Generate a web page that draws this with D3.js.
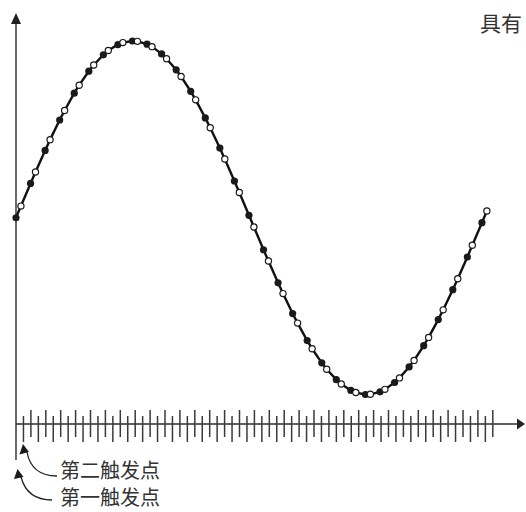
<!DOCTYPE html>
<html>
<head>
<meta charset="utf-8">
<script src="https://cdn.jsdelivr.net/npm/d3@7"></script>
<style>
  body { margin: 0; background: #fff; }
  svg text { font-family: "Noto Sans CJK SC", "Noto Sans", sans-serif; fill: #333; }
</style>
</head>
<body>
<div id="chart"></div>
<script>
// phase (degrees) and amplitude of the samples taken at the first trigger point (filled)
var firstPhase = [0, 11.2, 22.4, 33.6, 44.8, 56, 67.2, 78.4, 89.6, 100.8, 112, 123.2, 134.4,
  145.6, 156.8, 168, 179.2, 190.4, 201.6, 212.8, 224, 235.2, 246.4, 257.6, 268.8, 280,
  291.2, 302.4, 313.6, 324.8, 336, 347.2, 358.4];
var firstValue = [0, 0.194, 0.381, 0.553, 0.705, 0.829, 0.922, 0.980, 1.000, 0.982, 0.927, 0.837, 0.715,
  0.565, 0.394, 0.208, 0.014, -0.181, -0.368, -0.542, -0.695, -0.821, -0.916, -0.977, -1.000, -0.985,
  -0.932, -0.844, -0.724, -0.576, -0.407, -0.222, -0.028];

// samples taken at the second trigger point (open)
var secondPhase = [3.8, 15, 26.2, 37.4, 48.6, 59.8, 71, 82.2, 93.4, 104.6, 115.8, 127, 138.2,
  149.4, 160.6, 171.8, 183, 194.2, 205.4, 216.6, 227.8, 239, 250.2, 261.4, 272.6, 283.8,
  295, 306.2, 317.4, 328.6, 339.8, 351, 362.2];
var secondValue = [0.066, 0.259, 0.442, 0.607, 0.750, 0.864, 0.946, 0.991, 0.998, 0.968, 0.900, 0.799, 0.667,
  0.509, 0.332, 0.143, -0.052, -0.245, -0.429, -0.596, -0.741, -0.857, -0.941, -0.989, -0.999, -0.971,
  -0.906, -0.807, -0.677, -0.521, -0.345, -0.156, 0.038];

// time-base tick marks on the horizontal axis
var tickIndex = d3.range(1, 65);

var labelTop = "具有";
var labelSecond = "第二触发点";
var labelFirst = "第一触发点";

var width = 526, height = 512;

var svg = d3.select("#chart").append("svg")
    .attr("width", width)
    .attr("height", height);

var x = d3.scaleLinear().domain([0, 360]).range([16, 484]);
var xTick = d3.scaleLinear().domain([0, 64]).range([16, 492.8]);
var y = d3.scaleLinear().domain([-1, 1]).range([394.5, 41]);

var axisY = 424;
var axisColor = "#2b2b2b";

// vertical axis
svg.append("line")
    .attr("x1", x(0)).attr("x2", x(0))
    .attr("y1", 460).attr("y2", 22)
    .attr("stroke", axisColor).attr("stroke-width", 1.4);
svg.append("path")
    .attr("d", "M" + x(0) + ",13 L" + (x(0) - 5) + ",24 L" + (x(0) + 5) + ",24 Z")
    .attr("fill", "#222");

// horizontal axis
svg.append("line")
    .attr("x1", x(0)).attr("x2", 518)
    .attr("y1", axisY).attr("y2", axisY)
    .attr("stroke", axisColor).attr("stroke-width", 1.4);
svg.append("path")
    .attr("d", "M525," + axisY + " L517," + (axisY - 5.5) + " L517," + (axisY + 5.5) + " Z")
    .attr("fill", "#222");

// ticks: odd ones hang down, even ones stand up
svg.selectAll("line.tick")
    .data(tickIndex)
    .enter().append("line")
    .attr("class", "tick")
    .attr("x1", function(d) { return xTick(d); })
    .attr("x2", function(d) { return xTick(d); })
    .attr("y1", function(d) { return d % 2 ? 416 : 410; })
    .attr("y2", function(d) { return d % 2 ? 442 : 437; })
    .attr("stroke", "#3a3a3a")
    .attr("stroke-width", 1.5);

// waveform through all samples
var points = [];
firstPhase.forEach(function(p, i) { points.push({p: p, v: firstValue[i], kind: "first"}); });
secondPhase.forEach(function(p, i) { points.push({p: p, v: secondValue[i], kind: "second"}); });
points.sort(function(a, b) { return a.p - b.p; });

var line = d3.line()
    .x(function(d) { return x(d.p); })
    .y(function(d) { return y(d.v); });

svg.append("path")
    .datum(points)
    .attr("d", line)
    .attr("fill", "none")
    .attr("stroke", "#111")
    .attr("stroke-width", 2.4)
    .attr("stroke-linejoin", "round");

svg.selectAll("circle.first")
    .data(points.filter(function(d) { return d.kind == "first"; }))
    .enter().append("circle")
    .attr("class", "first")
    .attr("cx", function(d) { return x(d.p); })
    .attr("cy", function(d) { return y(d.v); })
    .attr("r", 3.6)
    .attr("fill", "#1a1a1a");

svg.selectAll("circle.second")
    .data(points.filter(function(d) { return d.kind == "second"; }))
    .enter().append("circle")
    .attr("class", "second")
    .attr("cx", function(d) { return x(d.p); })
    .attr("cy", function(d) { return y(d.v); })
    .attr("r", 3.1)
    .attr("fill", "#fff")
    .attr("stroke", "#1a1a1a")
    .attr("stroke-width", 1.2);

// title fragment at top right
svg.append("text")
    .attr("x", 480).attr("y", 31)
    .style("font-size", "21px")
    .text(labelTop);

// trigger point annotations
function arrowHead(tx, ty, lx, ly, rx, ry) {
    svg.append("path")
        .attr("d", "M" + tx + "," + ty + " L" + lx + "," + ly + " L" + rx + "," + ry + " Z")
        .attr("fill", "#1a1a1a");
}

var t1 = xTick(1);
svg.append("path")
    .attr("d", "M57,476 C40,476 30,468 " + (t1 + 3.5) + ",452")
    .attr("fill", "none").attr("stroke", "#222").attr("stroke-width", 1.3);
arrowHead(t1 - 0.5, 444, t1 - 4, 454.5, t1 + 5.5, 452);

var t0 = x(0);
svg.append("path")
    .attr("d", "M52,500 C35,500 25,492 " + (t0 + 5) + ",477")
    .attr("fill", "none").attr("stroke", "#222").attr("stroke-width", 1.3);
arrowHead(t0 + 1.5, 469, t0 - 2, 479, t0 + 7.5, 477);

svg.append("text")
    .attr("x", 60).attr("y", 478)
    .style("font-size", "20px")
    .text(labelSecond);

svg.append("text")
    .attr("x", 60).attr("y", 505)
    .style("font-size", "20px")
    .text(labelFirst);
</script>
</body>
</html>
